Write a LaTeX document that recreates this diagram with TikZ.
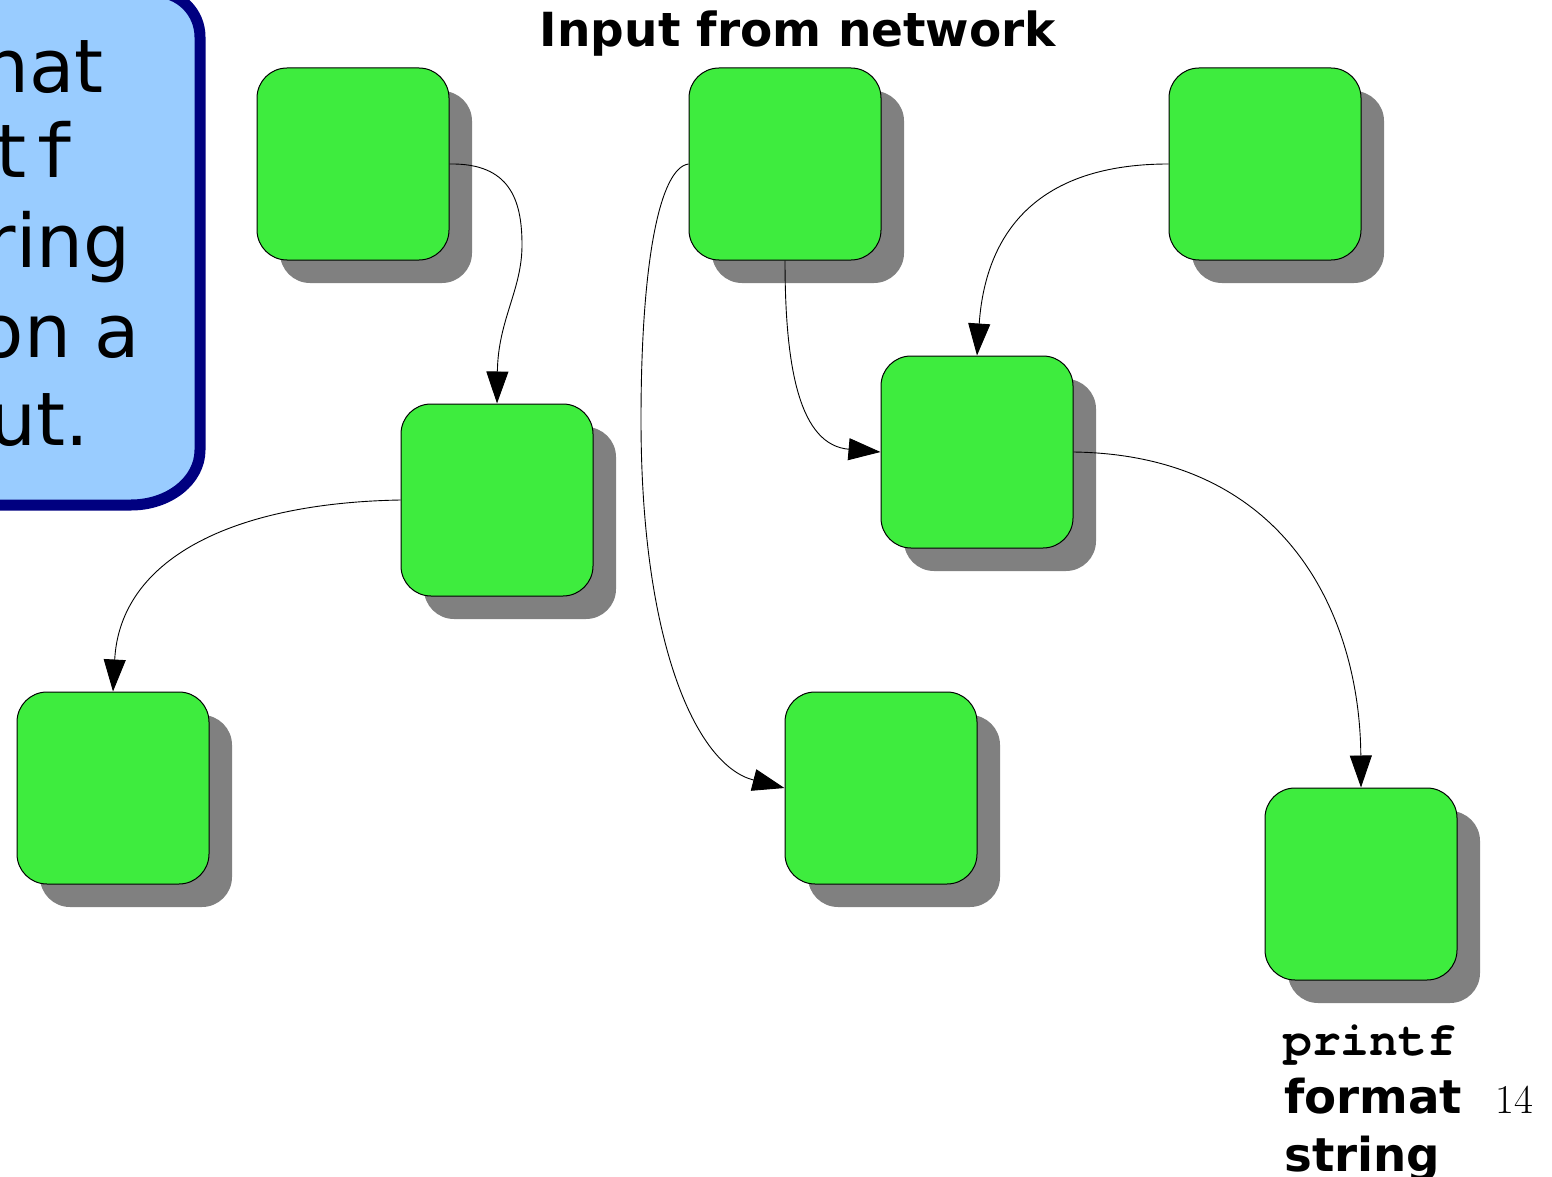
\documentclass[tikz,border=0pt]{standalone}
\usepackage{fontspec}
\newfontfamily\dvsans{DejaVu Sans}
\newfontfamily\dvmono{DejaVu Sans Mono}
\newfontfamily\crmono{texgyrecursor}[Extension=.otf,
  UprightFont=*-regular, BoldFont=*-bold]
\usetikzlibrary{arrows.meta,shadows}
\definecolor{boxgreen}{RGB}{62,236,62}
\definecolor{shadowgray}{RGB}{128,128,128}
\definecolor{calloutblue}{RGB}{153,204,255}
\definecolor{calloutnavy}{RGB}{0,0,128}

\begin{document}
\begin{tikzpicture}[x=1pt,y=-1pt,
  gbox/.style={rectangle, minimum size=192pt, inner sep=0pt,
    rounded corners=30pt, fill=boxgreen, draw=black, line width=1pt,
    drop shadow={shadow xshift=23pt, shadow yshift=-23pt, opacity=1,
      fill=shadowgray, draw=none}},
  flow/.style={draw=black, line width=0.9pt,
    -{Triangle[length=32pt,width=22pt]}},
  calltext/.style={inner sep=0pt, anchor=base east,
    font=\dvsans\fontsize{74}{88}\selectfont},
  boldlabel/.style={inner sep=0pt, anchor=base west,
    font=\dvsans\bfseries\fontsize{46.7}{58}\selectfont},
]
\useasboundingbox (0,0) rectangle (1552,1177);
\clip (0,0) rectangle (1552,1177);

% callout at the left border
\draw[line width=11pt, draw=calloutnavy, fill=calloutblue]
  (-30,-8) -- (155,-8) .. controls (179.9,-8) and (200,12.1) .. (200,37)
  -- (200,450) .. controls (200,480.4) and (169.1,505) .. (131,505)
  -- (-30,505) -- cycle;
\node[calltext] (t1) at (104,93) {hat};
\node[calltext] (t2) at (77,178) {\dvmono tf};
\node[calltext] (t3) at (131,267) {ring};
\node[calltext] (t4) at (140,357) {on a};
\node[calltext] (t5) at (89,445) {ut.};

% title
\node[boldlabel, anchor=base, font=\dvsans\bfseries\fontsize{47}{58}\selectfont]
  (title) at (798,47) {Input from network};

% green boxes
\node[gbox] (A) at (353,164) {};
\node[gbox] (B) at (785,164) {};
\node[gbox] (C) at (1265,164) {};
\node[gbox] (D) at (497,500) {};
\node[gbox] (E) at (977,452) {};
\node[gbox] (F) at (113,788) {};
\node[gbox] (G) at (881,788) {};
\node[gbox] (H) at (1361,884) {};

% connectors
\draw[flow] (A.east) .. controls (510,163) and (522,200) .. (522,245)
  .. controls (522,290) and (498,320) .. (D.north);
\draw[flow] (B.west) .. controls (660,168) and (641,260) .. (641,420)
  .. controls (641,640) and (695,765) .. (G.west);
\draw[flow] (B.south) .. controls (785,370) and (800,445) .. (E.west);
\draw[flow] (C.west) .. controls (1030,164) and (985,240) .. (E.north);
\draw[flow] (D.west) .. controls (230,503) and (120,560) .. (F.north);
\draw[flow] (E.east) .. controls (1290,455) and (1360,620) .. (H.north);

% label under the last box
\node[boldlabel, font=\crmono\bfseries\fontsize{48}{58}\selectfont]
  (lbl1) at (1283,1055) {printf};
\node[boldlabel] (lbl2) at (1284,1113) {format};
\node[boldlabel] (lbl3) at (1284,1171) {string};
\node[inner sep=0pt, anchor=base west, font=\fontsize{41}{48}\selectfont]
  (pagenum) at (1495,1113) {14};
\end{tikzpicture}
\end{document}
